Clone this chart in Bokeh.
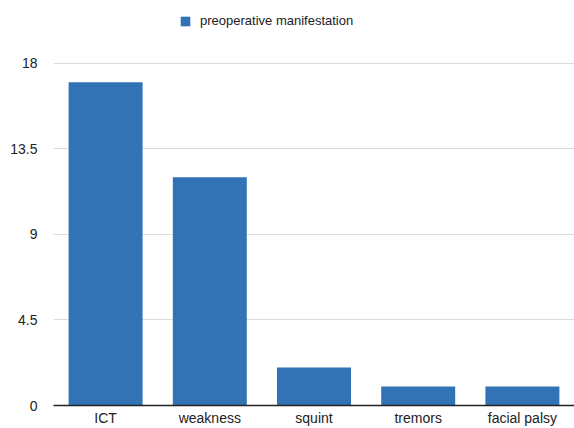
from bokeh.plotting import figure
from bokeh.models import ColumnDataSource, FactorRange, Range1d, FixedTicker, Legend, LegendItem
from bokeh.embed import file_html
from bokeh.resources import INLINE

# Preoperative manifestations (patient counts)
categories = ["ICT", "weakness", "squint", "tremors", "facial palsy"]
counts = [17, 12, 2, 1, 1]
y_ticks = [0, 4.5, 9, 13.5, 18]
y_tick_labels = ["0", "4.5", "9", "13.5", "18"]
series_name = "preoperative manifestation"

FONT = "Liberation Sans"
BAR_COLOR = "#3173b4"
TEXT_COLOR = "#222222"

source = ColumnDataSource(data=dict(cat=categories, val=counts))

# headroom above the top tick leaves space for the legend
p = figure(
    width=574, height=428,
    x_range=FactorRange(*categories, range_padding=0),
    y_range=Range1d(0, 21.3),
    output_backend="svg", toolbar_location=None,
    min_border_left=53, min_border_right=0, min_border_bottom=0, min_border_top=0,
)

r = p.vbar(x="cat", top="val", width=0.71, source=source,
           fill_color=BAR_COLOR, line_color=None)

legend = Legend(items=[LegendItem(label=series_name, renderers=[r])],
                location=(126, 377), orientation="horizontal",
                border_line_color=None, background_fill_alpha=0,
                label_text_font=FONT, label_text_font_size="13px",
                label_text_color=TEXT_COLOR,
                glyph_width=12, glyph_height=12, label_standoff=9,
                padding=0, margin=0, spacing=0)
p.add_layout(legend)

p.outline_line_color = None
p.xgrid.grid_line_color = None
p.ygrid.grid_line_color = "#dcdcdc"
p.ygrid.grid_line_width = 1

p.yaxis.ticker = FixedTicker(ticks=y_ticks)
p.yaxis.major_label_overrides = {t: l for t, l in zip(y_ticks, y_tick_labels)}
p.yaxis.axis_line_color = None
p.yaxis.major_tick_line_color = None
p.yaxis.minor_tick_line_color = None
p.yaxis.major_tick_out = 0
p.yaxis.major_tick_in = 0
p.yaxis.minor_tick_out = 0
p.yaxis.major_label_standoff = 16
p.yaxis.major_label_text_font = FONT
p.yaxis.major_label_text_font_size = "14px"
p.yaxis.major_label_text_color = TEXT_COLOR

p.xaxis.axis_line_color = TEXT_COLOR
p.xaxis.axis_line_width = 1.5
p.xaxis.major_tick_line_color = None
p.xaxis.minor_tick_line_color = None
p.xaxis.major_tick_out = 0
p.xaxis.major_tick_in = 0
p.xaxis.minor_tick_out = 0
p.xaxis.major_label_standoff = 4
p.xaxis.major_label_text_font = FONT
p.xaxis.major_label_text_font_size = "14px"
p.xaxis.major_label_text_color = TEXT_COLOR

open("out.html", "w").write(file_html(p, INLINE))
